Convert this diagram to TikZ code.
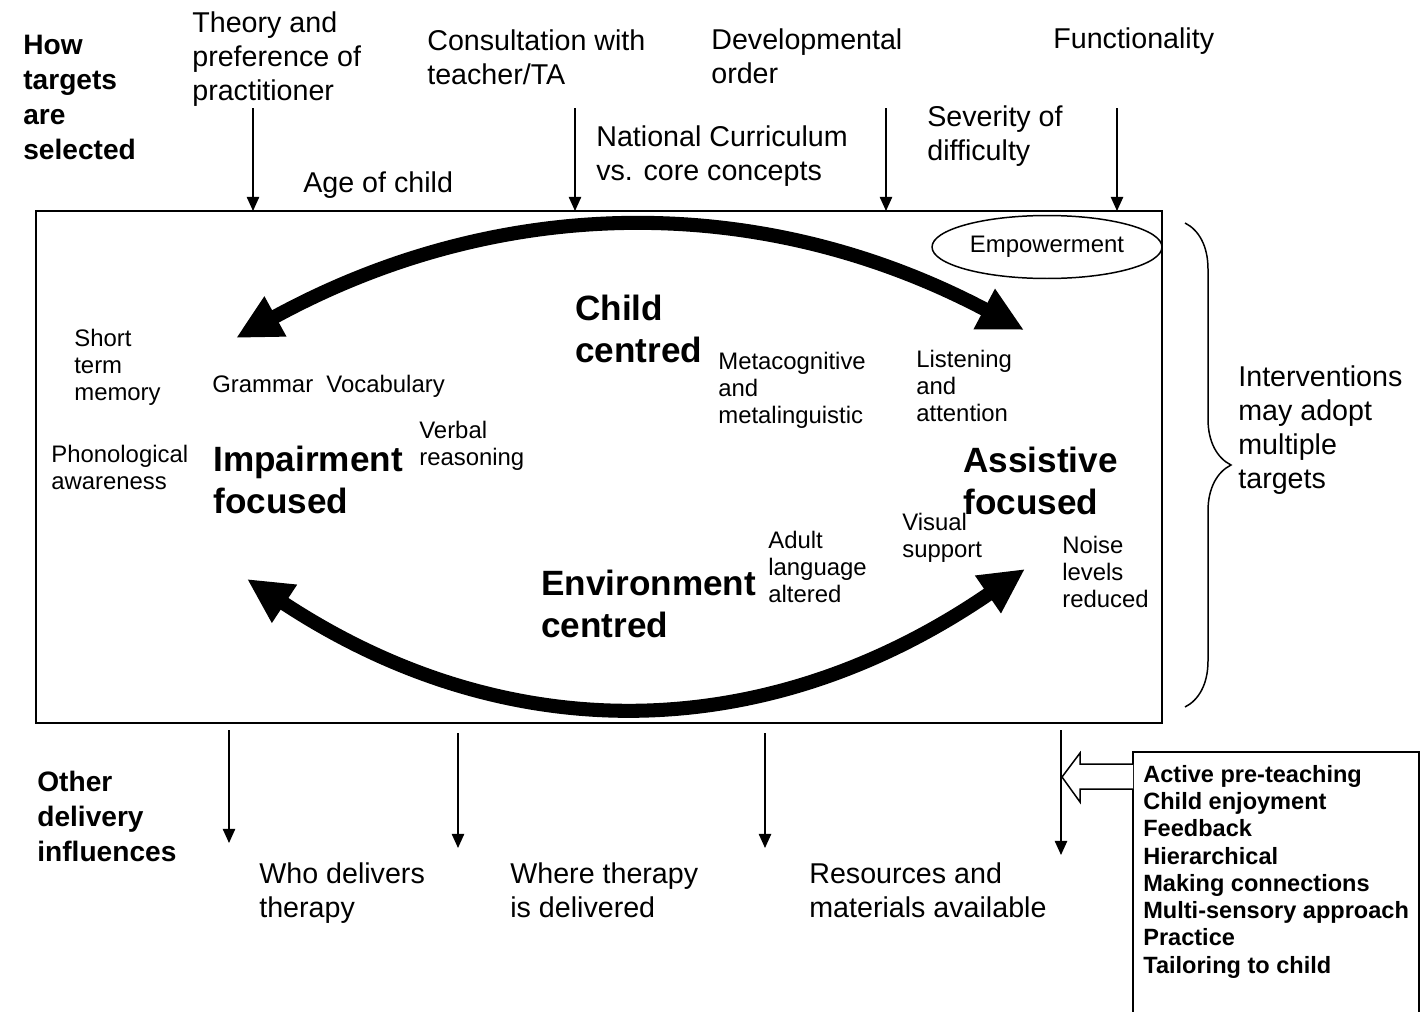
\documentclass[tikz,border=0pt]{standalone}
\usepackage{fontspec}
\setmainfont{Liberation Sans}
\usetikzlibrary{arrows.meta,shapes.geometric,decorations.pathreplacing,calc}

\begin{document}
\begin{tikzpicture}[
    x=0.02cm, y=-0.02cm,
    toptext/.style={anchor=north west, align=left, inner sep=0pt, font=\fontsize{16.3}{19.5}\selectfont},
    smalltext/.style={anchor=north west, align=left, inner sep=0pt, font=\fontsize{13.6}{15.4}\selectfont},
    headtext/.style={anchor=north west, align=left, inner sep=0pt, font=\fontsize{16}{19.9}\selectfont\bfseries},
    bigtext/.style={anchor=north west, align=left, inner sep=0pt, font=\fontsize{20}{23.9}\selectfont\bfseries},
    listtext/.style={anchor=north west, align=left, inner sep=0pt, font=\fontsize{13.4}{15.5}\selectfont\bfseries},
    pointer/.style={line width=0.85pt, -{Triangle[length=8pt,width=7pt]}},
    bigarrow/.style={line width=8pt, {Triangle[length=0.9cm,width=0.85cm]}-{Triangle[length=0.9cm,width=0.85cm]}}
]
    \useasboundingbox (0,0) rectangle (1420,1011);

    % Frame
    \node[draw, line width=0.85pt, anchor=north west, minimum width=22.52cm, minimum height=10.24cm, inner sep=0pt, outer sep=0pt] (frame) at (36,211) {};

    % How targets are selected
    \node[headtext] (how) at (23,35) {How\\targets\\are\\selected};
    \node[toptext] (theory) at (192,11) {Theory and\\preference of\\practitioner};
    \node[toptext] (age) at (303,171) {Age of child};
    \node[toptext] (consult) at (427,29) {Consultation with\\teacher/TA};
    \node[toptext] (national) at (596,125) {National Curriculum\\vs. core concepts};
    \node[toptext] (develop) at (711,28) {Developmental\\order};
    \node[toptext] (severity) at (927,105) {Severity of\\difficulty};
    \node[toptext] (function) at (1053,27) {Functionality};

    \foreach \x [count=\i] in {253,575,886,1117} {
        \coordinate (top\i) at (\x,108);
        \draw[pointer] (top\i) -- (top\i |- frame.north);
    }

    % Targets
    \node[draw, ellipse, line width=0.85pt, minimum width=4.6cm, minimum height=1.26cm, inner sep=0pt, font=\fontsize{13.6}{15.4}\selectfont] (empower) at (1047,247) {Empowerment};

    \node[bigtext] (child) at (575,295) {Child\\centred};
    \node[bigtext] (impair) at (213,446) {Impairment\\focused};
    \node[bigtext] (assist) at (963,447) {Assistive\\focused};
    \node[bigtext] (environ) at (541,570) {Environment\\centred};

    \node[smalltext] (meta) at (718,352) {Metacognitive\\and\\metalinguistic};
    \node[smalltext] (listen) at (916,350) {Listening\\and\\attention};
    \node[smalltext] (short) at (74,329) {Short\\term\\memory};
    \node[smalltext] (grammar) at (212,375) {Grammar\ \ Vocabulary};
    \node[smalltext] (verbal) at (419,421) {Verbal\\reasoning};
    \node[smalltext] (phono) at (51,445) {Phonological\\awareness};
    \node[smalltext] (visual) at (902,513) {Visual\\support};
    \node[smalltext] (adult) at (768,531) {Adult\\language\\altered};
    \node[smalltext] (noise) at (1062,536) {Noise\\levels\\reduced};

    % Curved arrows
    \coordinate (topL) at (236,338);
    \coordinate (topR) at (1024,330);
    \draw[bigarrow] (topL) .. controls (499,194) and (761,191) .. (topR);
    \coordinate (botL) at (247,579);
    \coordinate (botR) at (1025,569);
    \draw[bigarrow] (botL) .. controls (506,750) and (766,747) .. (botR);

    % Brace
    \coordinate (bracetop) at (1185,223);
    \coordinate (bracebot) at (1185,707);
    \draw[line width=0.85pt, decorate, decoration={brace, amplitude=0.92cm}] (bracetop) -- (bracebot);
    \node[toptext] (interv) at (1238,365) {Interventions\\may adopt\\multiple\\targets};

    % Other delivery influences
    \node[headtext] (other) at (37,771) {Other\\delivery\\influences};
    \node[toptext] (who) at (259,862) {Who delivers\\therapy};
    \node[toptext] (where) at (510,862) {Where therapy\\is delivered};
    \node[toptext] (resources) at (809,862) {Resources and\\materials available};

    % List box
    \coordinate (listcorner) at (1133,752);
    \draw[line width=0.85pt] (listcorner |- 0,1040) -- (listcorner) -- (1419,752) -- (1419,1040);
    \node[listtext] (list) at (1143,765) {Active pre-teaching\\Child enjoyment\\Feedback\\Hierarchical\\Making connections\\Multi-sensory approach\\Practice\\Tailoring to child};
    \draw[line width=0.85pt, fill=white] ($(listcorner)+(0,12)$) -- ++(-53,0) -- ++(0,-11) -- ++(-18,24) -- ++(18,25) -- ++(0,-13) -- ++(53,0);

    \foreach \x/\s/\e [count=\i] in {229/730/843, 458/733/848, 765/733/848, 1061/730/855} {
        \coordinate (bs\i) at (\x,\s);
        \coordinate (be\i) at (\x,\e);
        \draw[pointer] (bs\i) -- (be\i);
    }
\end{tikzpicture}
\end{document}
